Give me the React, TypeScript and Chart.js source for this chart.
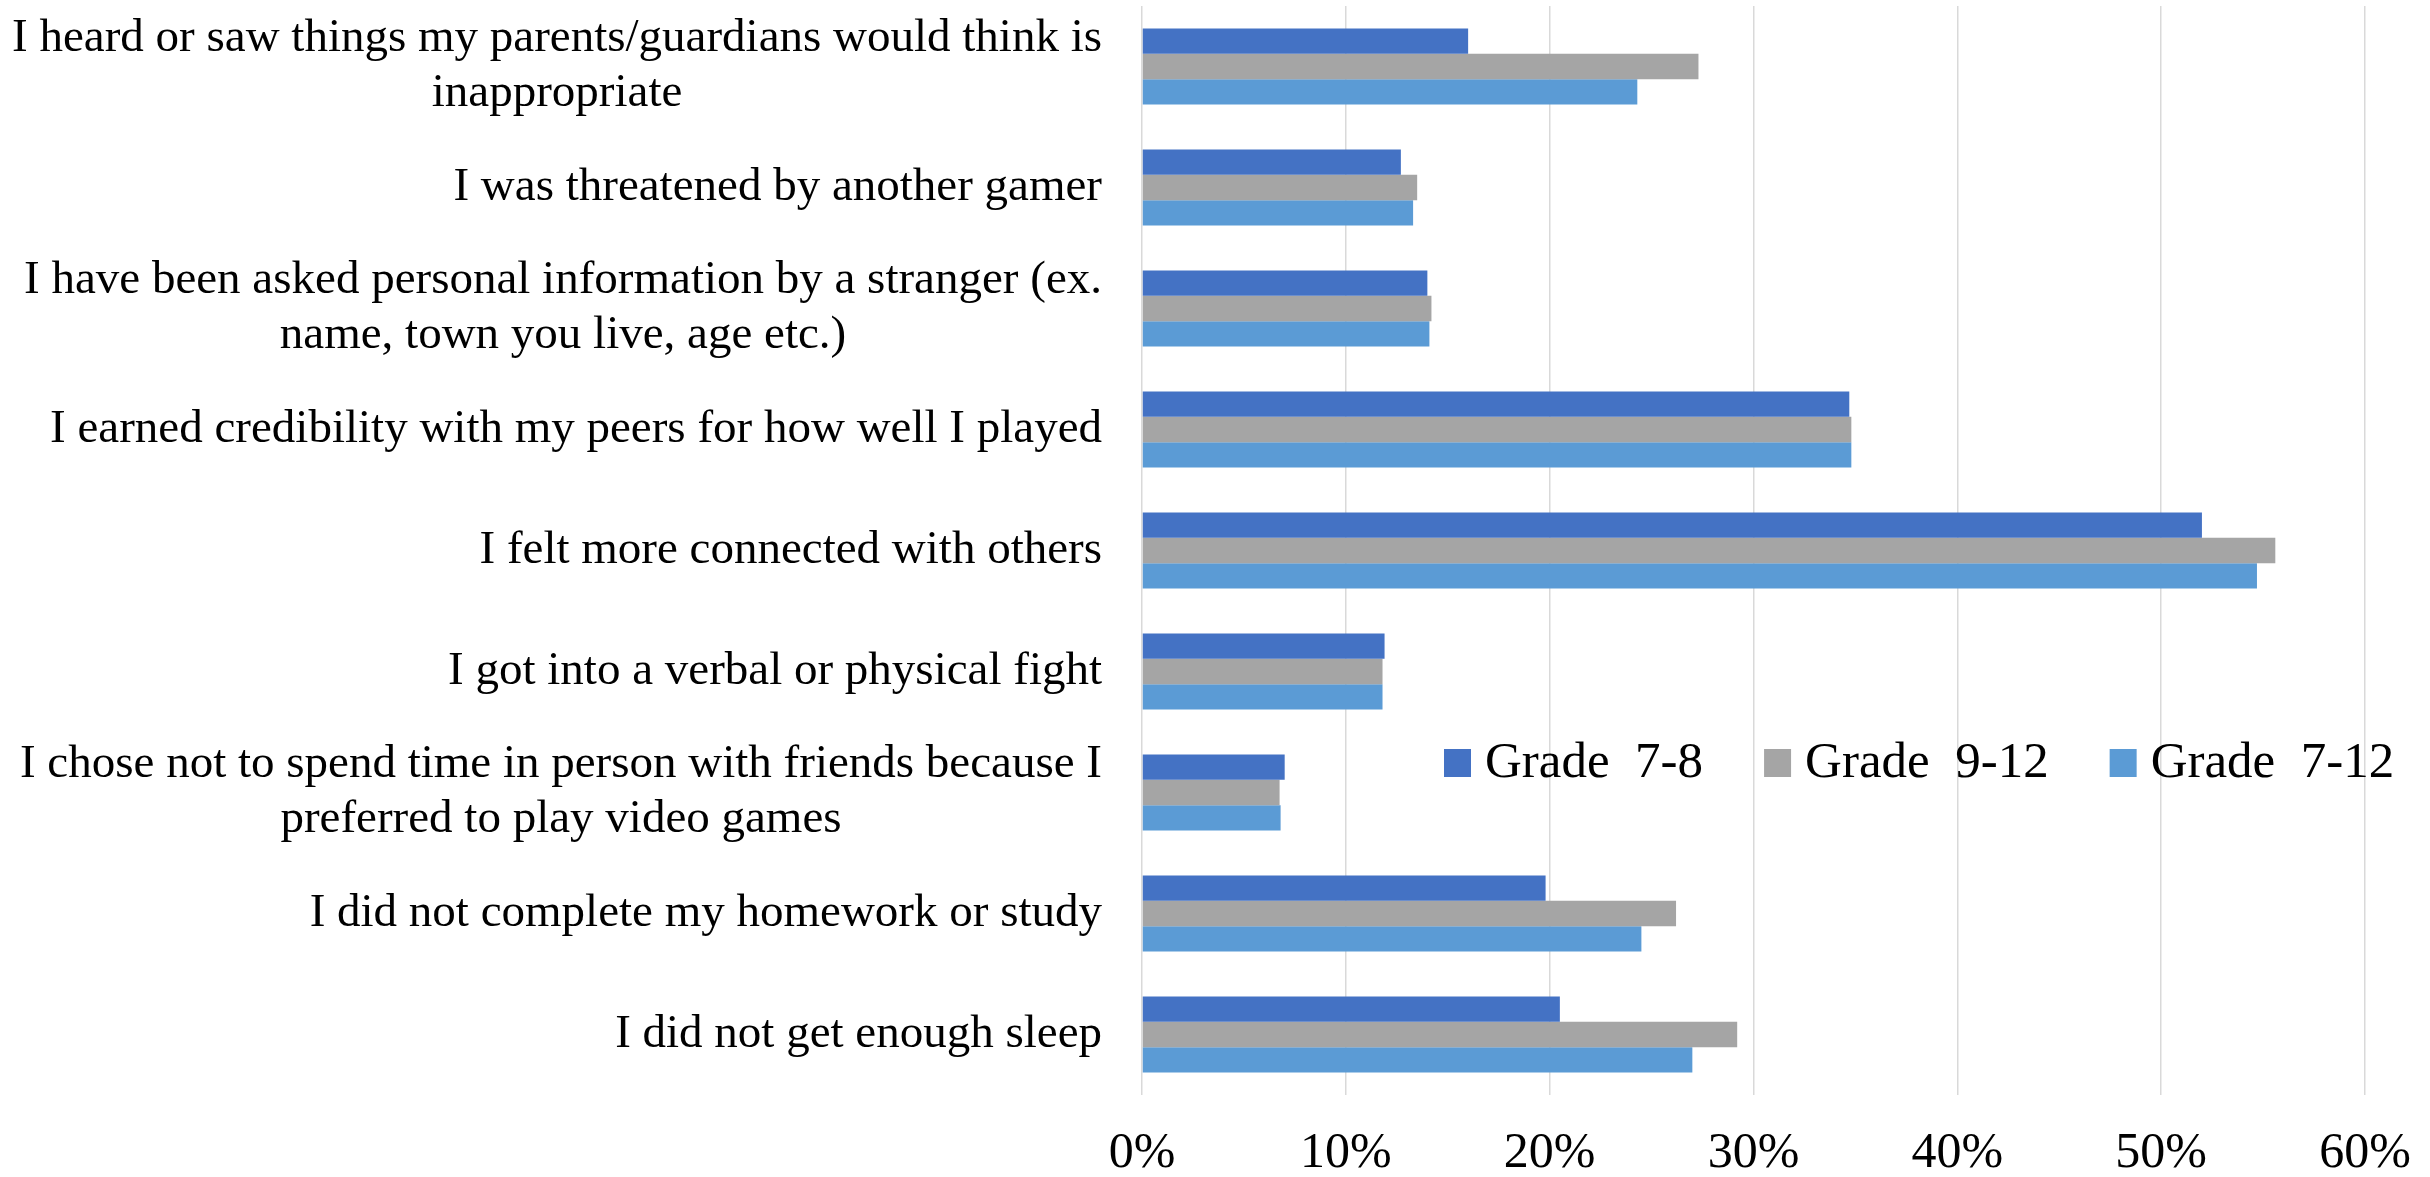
import React, { useEffect, useRef } from 'react';
import { Chart, registerables } from 'chart.js';

Chart.register(...registerables);

const categories: string[][] = [
  ['I heard or saw things my parents/guardians would think is', 'inappropriate'],
  ['I was threatened by another gamer'],
  ['I have been asked personal information by a stranger (ex.', 'name, town you live, age etc.)'],
  ['I earned credibility with my peers for how well I played'],
  ['I felt more connected with others'],
  ['I got into a verbal or physical fight'],
  ['I chose not to spend time in person with friends because I', 'preferred to play video games'],
  ['I did not complete my homework or study'],
  ['I did not get enough sleep'],
];

const seriesNames = ['Grade  7-8', 'Grade  9-12', 'Grade  7-12'];
const grade78 = [16.0, 12.7, 14.0, 34.7, 52.0, 11.9, 7.0, 19.8, 20.5];
const grade912 = [27.3, 13.5, 14.2, 34.8, 55.6, 11.8, 6.75, 26.2, 29.2];
const grade712 = [24.3, 13.3, 14.1, 34.8, 54.7, 11.8, 6.8, 24.5, 27.0];
const seriesColors = ['#4472C4', '#A5A5A5', '#5B9BD5'];
const xTickMax = 60;
const xTickStep = 10;

const FONT = '"Liberation Serif", "Times New Roman", serif';

const labelPlugin = {
  id: 'customLabels',
  afterDraw(chart: any) {
    const ctx = chart.ctx;
    const yScale = chart.scales.y;
    const area = chart.chartArea;
    ctx.save();
    ctx.font = `47px ${FONT}`;
    ctx.fillStyle = '#000000';
    ctx.textAlign = 'center';
    ctx.textBaseline = 'middle';
    const rightEdge = area.left - 40;
    const lineH = 55;
    categories.forEach((lines, i) => {
      const cy = yScale.getPixelForTick(i);
      const widest = Math.max(...lines.map((l) => ctx.measureText(l).width));
      const cx = rightEdge - widest / 2;
      lines.forEach((line, j) => {
        const y = cy + (j - (lines.length - 1) / 2) * lineH;
        ctx.fillText(line, cx, y);
      });
    });
    ctx.font = `51px ${FONT}`;
    ctx.textAlign = 'left';
    ctx.textBaseline = 'alphabetic';
    let x = 1444;
    const baseline = 777;
    chart.data.datasets.forEach((ds: any) => {
      ctx.fillStyle = ds.backgroundColor;
      ctx.fillRect(x, baseline - 28, 27, 28);
      ctx.fillStyle = '#000000';
      ctx.fillText(ds.label, x + 41, baseline);
      x += 41 + ctx.measureText(ds.label).width + 61;
    });
    ctx.restore();
  },
};

export default function App() {
  const canvasRef = useRef<HTMLCanvasElement | null>(null);

  useEffect(() => {
    document.body.style.margin = '0';
    const canvas = canvasRef.current;
    if (!canvas) return;
    const chart = new Chart(canvas, {
      type: 'bar',
      data: {
        labels: categories.map((c) => c.join(' ')),
        datasets: [
          { label: seriesNames[0], data: grade78, backgroundColor: seriesColors[0] },
          { label: seriesNames[1], data: grade912, backgroundColor: seriesColors[1] },
          { label: seriesNames[2], data: grade712, backgroundColor: seriesColors[2] },
        ],
      },
      options: {
        indexAxis: 'y',
        animation: false,
        responsive: false,
        devicePixelRatio: 1,
        layout: { padding: { top: 6, right: 65, left: 0, bottom: 0 } },
        datasets: {
          bar: { categoryPercentage: 0.628, barPercentage: 1.0 },
        },
        plugins: {
          legend: { display: false },
          tooltip: { enabled: false },
        },
        scales: {
          x: {
            min: 0,
            max: xTickMax,
            ticks: {
              stepSize: xTickStep,
              padding: 29,
              color: '#000000',
              font: { family: FONT, size: 50 },
              callback: (v: any) => `${v}%`,
            },
            grid: { color: '#D9D9D9', lineWidth: 1.5, drawTicks: false },
            border: { display: false },
            afterFit: (scale: any) => {
              scale.height = 82;
              scale.paddingLeft = 0;
              scale.paddingRight = 0;
            },
          },
          y: {
            type: 'category',
            ticks: { display: false },
            grid: { display: false, drawTicks: false },
            border: { display: false },
            afterFit: (scale: any) => {
              scale.width = 1142;
              scale.paddingTop = 0;
              scale.paddingBottom = 0;
            },
          },
        },
      },
      plugins: [labelPlugin],
    });
    return () => chart.destroy();
  }, []);

  return (
    <div style={{ position: 'fixed', left: 0, top: 0, width: 2430, height: 1177, background: '#ffffff' }}>
      <canvas ref={canvasRef} width={2430} height={1177} style={{ width: 2430, height: 1177, display: 'block' }} />
    </div>
  );
}
